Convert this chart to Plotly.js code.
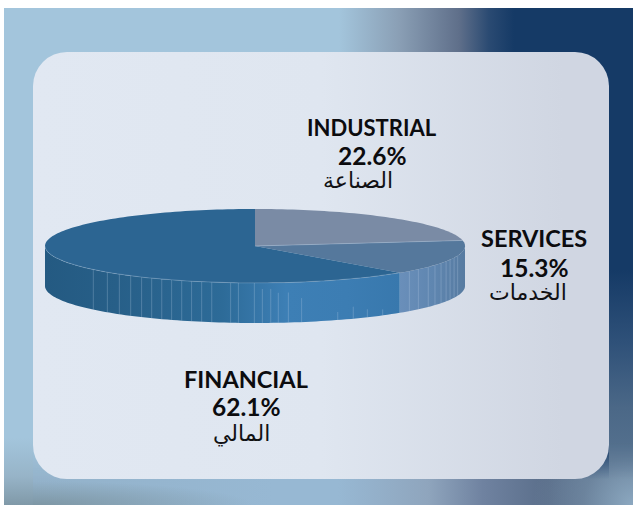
<!DOCTYPE html>
<html>
<head>
<meta charset="utf-8">
<script src="https://cdn.plot.ly/plotly-3.0.1.min.js"></script>
<style>
html,body{margin:0;padding:0;background:#fff;width:633px;height:505px;overflow:hidden}
#bg{position:absolute;left:4px;top:8px;width:629px;height:497px;
 background:
  linear-gradient(to bottom, #153a66 0, #153a66 262px, #2f5179 335px, #4b6887 400px, #5f7a96 497px) 100% 0/24px 100% no-repeat,
  linear-gradient(to bottom, #a3c5dc 0, #a3c5dc 430px, #97b4c8 468px, #8099a8 497px) 0 0/29px 100% no-repeat,
  linear-gradient(to right, #a3c5dc 0, #a3c5dc 335px, #8a9fb5 395px, #5f6f8a 455px, #2a4a72 485px, #153a66 510px, #153a66 100%);}
#band{position:absolute;left:33px;top:435px;width:600px;height:70px;
 background:
  radial-gradient(circle 100px at 600px 70px, rgba(140,168,192,1), rgba(118,142,166,.6) 50%, rgba(90,110,138,0) 100%),
  radial-gradient(ellipse 220px 24px at 0 70px, rgba(122,146,158,.85), rgba(122,146,158,0) 100%),
  linear-gradient(to left, #5f7a96 0, #5a6e8a 85px, #6f82a0 150px, #8fa5bd 205px, #97b8d3 295px, #97b8d3 360px, #93b2ca 100%);
 -webkit-mask-image:linear-gradient(to top,#000 26px,rgba(0,0,0,0) 62px);
 mask-image:linear-gradient(to top,#000 26px,rgba(0,0,0,0) 62px)}
#panel{position:absolute;left:33px;top:52px;width:576px;height:427px;border-radius:34px;
 background:linear-gradient(to right,#e1e8f2 0,#dfe6f0 50%,#d0d6e2 92%,#d0d6e2 100%)}
#chart{position:absolute;left:0;top:0;width:633px;height:505px}
</style>
</head>
<body>
<div id="bg"></div><div id="band"></div><div id="panel"></div><div id="chart"></div>
<script>
// Data
var categories = ['INDUSTRIAL', 'SERVICES', 'FINANCIAL'];
var arabicLabels = ['الصناعة', 'الخدمات', 'المالي'];
var shares = [22.6, 15.3, 62.1];
var sliceColors = ['#7a8ba5', '#55789c', '#2c6592'];

// Rib positions on the pie's wall (fraction of radius, and fraction of wall height where each rib starts)
var ribX = [-.77,-.703,-.646,-.592,-.54,-.492,-.444,-.397,-.349,-.302,-.254,-.206,-.116,-.079,-.003,.035,.075,.111,.159,.222,.394,.468,.535,.608,.735,.778,.825,.857,.886,.91,.929,.948,.965];
var ribFrom = [0,0,0,0,0,0,0,0,0,0,0,0,0,0,0,.15,.15,.25,.25,.4,.8,.7,.8,.85,0,0,0,0,0,0,0,0,0];

// Geometry of the tilted pie in plot units: radius = 1 horizontally, y unit = vertical radius
var depth = 40 / 37;
var PX = 210, PY = 37, CX = 255, CY = 246;

function pt(deg) { var r = deg * Math.PI / 180; return [Math.sin(r), Math.cos(r)]; }
function arc(a, b) {
  var out = [], n = Math.max(2, Math.ceil(Math.abs(b - a) / 1.5));
  for (var i = 0; i <= n; i++) out.push(pt(a + (b - a) * i / n));
  return out;
}
var total = shares.reduce(function (s, v) { return s + v; }, 0);
var bounds = [0];
shares.forEach(function (v) { bounds.push(bounds[bounds.length - 1] + v / total * 360); });

var traces = [];

// Walls: Services and Financial are the slices that face the viewer
function wall(a, b, scale) {
  var top = arc(a, b), bot = arc(b, a);
  var xs = top.map(function (p) { return p[0]; }).concat(bot.map(function (p) { return p[0]; }));
  var ys = top.map(function (p) { return p[1]; }).concat(bot.map(function (p) { return p[1] - depth; }));
  traces.push({ type: 'scatter', mode: 'none', x: xs.concat([xs[0]]), y: ys.concat([ys[0]]), fill: 'toself', hoverinfo: 'skip',
    fillgradient: { type: 'horizontal', colorscale: scale } });
}
wall(90, bounds[2], [[0, '#6a8fba'], [0.5, '#5f86b0'], [1, '#577ba1']]);
wall(bounds[2], 270, [[0, '#245a82'], [0.2, '#275f88'], [0.5, '#2d6b98'], [0.68, '#3d7fb5'], [0.85, '#3c7db3'], [1, '#3878ad']]);

// Ribs
var rx = [], ry = [];
ribX.forEach(function (s, i) {
  var topY = -Math.sqrt(1 - s * s);
  rx.push(s, s, null);
  ry.push(topY - depth * ribFrom[i], topY - depth, null);
});
traces.push({ type: 'scatter', mode: 'lines', x: rx, y: ry, hoverinfo: 'skip', line: { color: 'rgba(185,208,230,.4)', width: 0.7 } });

// Top slices
shares.forEach(function (v, i) {
  var a = arc(bounds[i], bounds[i + 1]);
  var xs = [0].concat(a.map(function (p) { return p[0]; }), [0]);
  var ys = [0].concat(a.map(function (p) { return p[1]; }), [0]);
  traces.push({ type: 'scatter', mode: 'none', x: xs, y: ys, fill: 'toself', fillcolor: sliceColors[i], name: categories[i], hoverinfo: 'name' });
});

// Light rims: front edge of the top face and the Industrial/Services divide
var rim = arc(136.4, 270);
traces.push({ type: 'scatter', mode: 'lines', x: rim.map(function (p) { return p[0]; }), y: rim.map(function (p) { return p[1]; }), hoverinfo: 'skip', line: { color: 'rgba(185,208,230,.4)', width: 0.7 } });
var d1 = pt(bounds[1]);
traces.push({ type: 'scatter', mode: 'lines', x: [0, d1[0]], y: [0, d1[1]], hoverinfo: 'skip', line: { color: 'rgba(190,205,225,.5)', width: 0.7 } });

// Text blocks: pixel anchors of each label's lines and the size of the name
var labelPos = [
  { x: 372, y1: 127, y2: 155, ax: 358, ay: 180, size: 22 },
  { x: 534, y1: 238, y2: 267, ax: 528, ay: 292, size: 23.5 },
  { x: 246, y1: 379, y2: 406, ax: 241, ay: 434, size: 23.5 }
];
var annotations = [];
var latin = 'Lato, "Open Sans", sans-serif';
categories.forEach(function (c, i) {
  var p = labelPos[i];
  function add(text, x, y, font) {
    annotations.push({ xref: 'paper', yref: 'paper', x: x / 633, y: 1 - y / 505, xanchor: 'center', yanchor: 'middle', showarrow: false, text: text, font: font });
  }
  add('<b>' + c + '</b>', p.x, p.y1, { family: latin, size: p.size, color: '#0c0c0f' });
  add('<b>' + shares[i].toFixed(1) + '%</b>', p.x, p.y2, { family: latin, size: 24.5, color: '#0c0c0f' });
  add(arabicLabels[i], p.ax, p.ay, { family: '"DejaVu Sans", "Noto Sans", sans-serif', size: 22, color: '#111114' });
});

var layout = {
  width: 633, height: 505,
  margin: { l: 0, r: 0, t: 0, b: 0 },
  paper_bgcolor: 'rgba(0,0,0,0)', plot_bgcolor: 'rgba(0,0,0,0)',
  showlegend: false,
  xaxis: { visible: false, range: [-CX / PX, (633 - CX) / PX], fixedrange: true },
  yaxis: { visible: false, range: [-(505 - CY) / PY, CY / PY], fixedrange: true },
  annotations: annotations
};
Plotly.newPlot('chart', traces, layout, { displayModeBar: false, staticPlot: true });
</script>
</body>
</html>
